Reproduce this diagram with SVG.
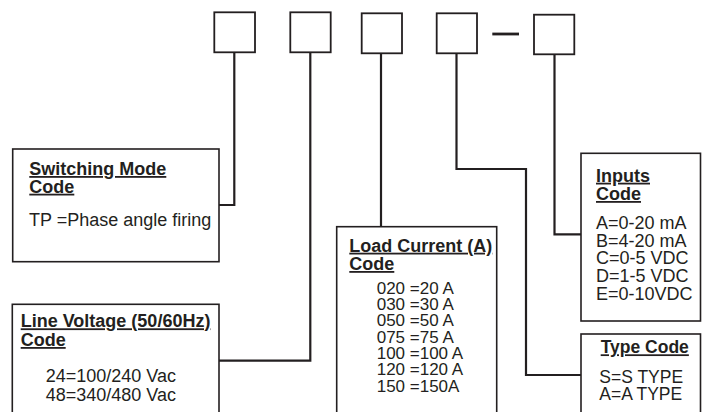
<svg xmlns="http://www.w3.org/2000/svg" width="708" height="412" viewBox="0 0 708 412">
<style>
.box{fill:#fff;stroke:#231f20;stroke-width:1.6}
.code{fill:#fff;stroke:#231f20;stroke-width:1.8}
.conn{fill:none;stroke:#231f20;stroke-width:2.2}
text{font-family:"Liberation Sans",Arial,sans-serif;fill:#231f20}
.h{font-weight:bold;font-size:18px;text-decoration:underline}
.b{font-size:18px}
.s{font-size:17px}
</style>
<g id="connectors">
<path class="conn" d="M234.3 52 V205 H219"/>
<path class="conn" d="M310.3 52 V360.7 H219"/>
<path class="conn" d="M381 53 V226.7"/>
<path class="conn" d="M456.5 53 V169 H526 V375 H581"/>
<path class="conn" d="M554.5 54 V234.3 H581"/>
<line x1="492.3" y1="34" x2="519" y2="34" stroke="#231f20" stroke-width="2.8"/>
</g>
<g id="code-boxes">
<rect id="c1" class="code" x="214.3" y="12.3" width="40.7" height="40"/>
<rect id="c2" class="code" x="290.3" y="12.3" width="40.4" height="40"/>
<rect id="c3" class="code" x="361.7" y="13.3" width="40.3" height="40"/>
<rect id="c4" class="code" x="436.7" y="13.3" width="40.3" height="40"/>
<rect id="c5" class="code" x="534" y="14.7" width="40.3" height="39.6"/>
</g>
<g id="switching">
<rect class="box" x="12.7" y="149" width="206.3" height="112.7"/>
<text class="h" x="29.3" y="175">Switching Mode</text>
<text class="h" x="29.3" y="192.7">Code</text>
<text class="b" x="29" y="226">TP =Phase angle firing</text>
</g>
<g id="voltage">
<rect class="box" x="12.3" y="304.3" width="206.7" height="120"/>
<text class="h" x="20.7" y="327.3">Line Voltage (50/60Hz)</text>
<text class="h" x="20.7" y="346">Code</text>
<text class="b" x="45.7" y="382.3">24=100/240 Vac</text>
<text class="b" x="45.7" y="401">48=340/480 Vac</text>
</g>
<g id="current">
<rect class="box" x="336.7" y="226.7" width="160" height="200"/>
<text class="h" x="349.3" y="251.7">Load Current (A)</text>
<text class="h" x="349.3" y="270">Code</text>
<text class="s" x="376.7" y="293.5">020 =20 A</text>
<text class="s" x="376.7" y="309.8">030 =30 A</text>
<text class="s" x="376.7" y="326.2">050 =50 A</text>
<text class="s" x="376.7" y="342.5">075 =75 A</text>
<text class="s" x="376.7" y="358.8">100 =100 A</text>
<text class="s" x="376.7" y="375.2">120 =120 A</text>
<text class="s" x="376.7" y="391.5">150 =150A</text>
</g>
<g id="inputs">
<rect class="box" x="581" y="153.3" width="119.5" height="167.7"/>
<text class="h" x="596" y="181.7">Inputs</text>
<text class="h" x="596" y="200">Code</text>
<text class="b" x="596" y="229">A=0-20 mA</text>
<text class="b" x="596" y="246.7">B=4-20 mA</text>
<text class="b" x="596" y="264.4">C=0-5 VDC</text>
<text class="b" x="596" y="282.2">D=1-5 VDC</text>
<text class="b" x="596" y="300">E=0-10VDC</text>
</g>
<g id="type">
<rect class="box" x="581" y="334" width="119.5" height="100"/>
<text class="h" x="600.7" y="353.3" style="font-size:17.5px">Type Code</text>
<text class="b" x="599.3" y="383.3" style="font-size:17.5px">S=S TYPE</text>
<text class="b" x="599.3" y="400" style="font-size:17.5px">A=A TYPE</text>
</g>
</svg>
